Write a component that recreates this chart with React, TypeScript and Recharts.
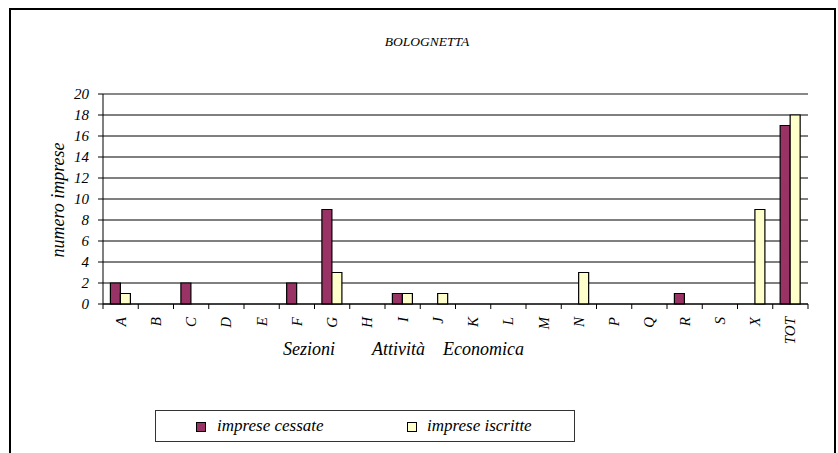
import { BarChart, Bar, XAxis, YAxis, CartesianGrid, ReferenceLine } from "recharts";

const sezioni = ["A", "B", "C", "D", "E", "F", "G", "H", "I", "J", "K", "L", "M", "N", "P", "Q", "R", "S", "X", "TOT"];
const cessate = [2, 0, 2, 0, 0, 2, 9, 0, 1, 0, 0, 0, 0, 0, 0, 0, 1, 0, 0, 17];
const iscritte = [1, 0, 0, 0, 0, 0, 3, 0, 1, 1, 0, 0, 0, 3, 0, 0, 0, 0, 9, 18];
const yTicks = [0, 2, 4, 6, 8, 10, 12, 14, 16, 18, 20];
const xTitleWords = ["Sezioni", "Attività", "Economica"];
const xTitleLeft = [283, 372, 443];

const series = [
  { key: "cessate", name: "imprese cessate", color: "#993366" },
  { key: "iscritte", name: "imprese iscritte", color: "#FFFFCC" },
];

const data = sezioni.map((s, i) => ({ sezione: s, cessate: cessate[i], iscritte: iscritte[i] }));

const FONT = '"Liberation Serif"';
const PLOT_W = 705;
const HALF = PLOT_W / sezioni.length / 2;

const txt = { fontFamily: FONT, fontStyle: "italic" as const, color: "#000" };

function XTick(props: any) {
  const { x, y, payload, index } = props;
  const last = index === sezioni.length - 1;
  const ty = y + 13;
  return (
    <g>
      <line x1={x - HALF} y1={y} x2={x - HALF} y2={y + 5} stroke="#000" />
      {last && <line x1={x + HALF} y1={y} x2={x + HALF} y2={y + 5} stroke="#000" />}
      <text
        x={x}
        y={ty}
        transform={`rotate(-90, ${x}, ${ty})`}
        textAnchor="end"
        dominantBaseline="central"
        style={{ ...txt, fontSize: 15 }}
        fill="#000"
      >
        {payload.value}
      </text>
    </g>
  );
}

function YTick(props: any) {
  const { x, y, payload } = props;
  return (
    <text x={x} y={y} textAnchor="end" dominantBaseline="central" style={{ ...txt, fontSize: 15 }} fill="#000">
      {payload.value}
    </text>
  );
}

export default function App() {
  return (
    <div style={{ position: "absolute", left: 0, top: 0, width: 838, height: 453, background: "#fff" }}>
      <div style={{ position: "absolute", left: 9, top: 8, width: 823, height: 460, border: "2px solid #000", borderBottom: "none" }} />
      <div style={{ ...txt, position: "absolute", left: 327, width: 200, top: 34, textAlign: "center", fontSize: 13.5 }}>
        BOLOGNETTA
      </div>
      <div
        style={{
          ...txt, position: "absolute", left: 58, top: 200, transform: "translate(-50%, -50%) rotate(-90deg)",
          whiteSpace: "nowrap", fontSize: 18,
        }}
      >
        numero imprese
      </div>
      {xTitleWords.map((w, i) => (
        <div key={w} style={{ ...txt, position: "absolute", left: xTitleLeft[i], top: 339, whiteSpace: "nowrap", fontSize: 18 }}>
          {w}
        </div>
      ))}
      <BarChart
        width={838}
        height={453}
        data={data}
        margin={{ top: 94, right: 30, left: 63, bottom: 109 }}
        barCategoryGap="21%"
        barGap={0}
      >
        <CartesianGrid horizontal vertical={false} stroke="#000" />
        <ReferenceLine y={20} stroke="#909090" />
        <XAxis
          dataKey="sezione"
          interval={0}
          tickSize={0}
          tickMargin={0}
          tickLine={false}
          axisLine={{ stroke: "#000" }}
          height={40}
          tick={<XTick />}
        />
        <YAxis
          domain={[0, 20]}
          ticks={yTicks}
          interval={0}
          width={40}
          tickSize={5}
          tickMargin={9}
          axisLine={{ stroke: "#000" }}
          tickLine={{ stroke: "#000" }}
          tick={<YTick />}
        />
        <YAxis yAxisId="r" orientation="right" domain={[0, 20]} tick={false} tickLine={false} width={0} axisLine={{ stroke: "#909090" }} />
        {series.map((s) => (
          <Bar key={s.key} dataKey={s.key} name={s.name} fill={s.color} stroke="#000" strokeWidth={1.2} isAnimationActive={false} />
        ))}
      </BarChart>
      <div
        style={{
          ...txt, position: "absolute", left: 155, top: 410, width: 418, height: 30, border: "1px solid #333", fontSize: 17,
        }}
      >
        {series.map((s, i) => (
          <div key={s.key}>
            <span
              style={{
                position: "absolute", left: i === 0 ? 40 : 251, top: 11, width: 8, height: 8,
                background: s.color, border: "1.5px solid #000",
              }}
            />
            <span style={{ position: "absolute", left: i === 0 ? 61 : 271, top: 5, whiteSpace: "nowrap" }}>{s.name}</span>
          </div>
        ))}
      </div>
    </div>
  );
}
